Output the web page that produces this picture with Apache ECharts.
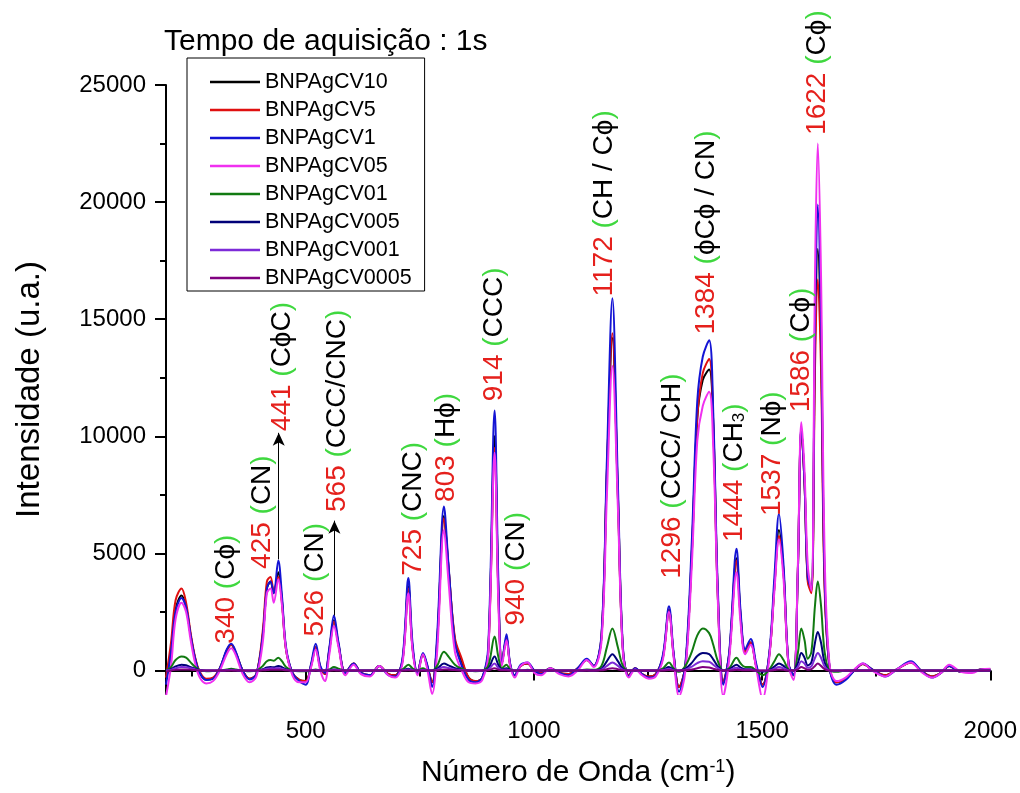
<!DOCTYPE html>
<html><head><meta charset="utf-8">
<script src="https://cdn.jsdelivr.net/npm/echarts@6/dist/echarts.min.js"></script>
<style>html,body{margin:0;padding:0;background:#fff}#chart{width:1020px;height:793px}</style>
</head><body><div id="chart"></div>
<script>
// Raman shift (cm^-1) sample positions
const wavenumber = [194,205,215,228,238,248,258,268,282,297,
 312,327,337,347,362,377,392,406,415,423,
 430,440,448,457,471,486,500,512,522,532,
 542,552,562,572,587,605,621,641,661,681,
 696,712,725,734,745,757,767,777,788,803,
 813,827,842,857,872,887,900,914,922,930,
 940,948,958,971,986,1001,1016,1036,1056,1076,
 1096,1116,1131,1148,1160,1172,1184,1195,1208,1222,
 1237,1252,1267,1283,1296,1306,1318,1332,1346,1358,
 1370,1384,1393,1403,1415,1428,1444,1453,1463,1475,
 1487,1501,1516,1527,1537,1547,1558,1569,1578,1586,
 1593,1600,1608,1616,1622,1629,1637,1648,1663,1683,
 1702,1721,1741,1770,1795,1826,1848,1872,1892,1910,
 1935,1960,1980,2000];

const cv10 = [-400,800,2600,3200,2700,1500,500,-100,-380,-330,
 100,850,1100,750,0,-350,-150,1500,3500,3800,
 3300,4200,3000,900,-100,-400,-450,250,1000,150,
 -150,900,2150,1100,-100,300,-100,-200,200,-150,
 -200,400,3600,1000,-100,700,150,-500,1200,6600,
 4400,1300,400,-300,-450,-300,800,10000,3500,300,
 1400,250,-200,200,300,0,-100,100,-100,-150,
 100,450,200,1400,8500,14200,7500,900,-200,100,
 -150,-250,-150,600,2600,700,-700,200,5000,10800,
 12400,12850,10500,3200,-500,700,4800,2300,800,1200,
 200,-600,700,3600,6000,4200,250,-200,4000,10300,
 8000,3900,3400,14000,18000,14000,3800,100,-500,-350,
 0,280,50,-200,50,350,0,-250,-100,200,
 -50,-50,50,50];

const cv5 = [-300,1200,3000,3500,2900,1600,550,-50,-350,-300,
 100,850,1100,750,0,-350,-150,1700,3800,4000,
 3400,4000,2900,900,-100,-400,-450,200,1000,150,
 -150,900,2100,1100,-100,300,-100,-200,200,-150,
 -200,400,3500,1000,-100,700,150,-500,1200,6500,
 4400,1400,500,-300,-450,-300,800,9500,3500,300,
 1400,250,-200,200,300,0,-100,100,-100,-150,
 100,450,200,1400,8500,14400,7500,900,-200,100,
 -150,-250,-150,600,2600,700,-700,200,5000,10800,
 12700,13300,10500,3200,-500,700,4700,2300,800,1200,
 200,-600,700,3600,5750,4200,250,-200,4000,10300,
 8000,3800,3300,13000,16700,13000,3500,100,-500,-350,
 0,280,50,-200,50,350,0,-250,-100,200,
 -50,-50,50,50];

const cv1 = [-600,800,2500,3100,2700,1500,500,-100,-400,-350,
 100,900,1150,800,0,-380,-150,1500,3500,3800,
 3300,4700,3200,1000,-100,-450,-600,300,1150,200,
 -100,1000,2350,1200,-100,300,-100,-200,200,-200,
 -250,500,3950,1200,-100,750,200,-700,1500,7000,
 4500,1200,200,-400,-500,-300,1000,11100,4000,300,
 1550,300,-200,250,350,0,-150,100,-100,-200,
 100,500,200,1500,9000,15900,8000,1000,-250,100,
 -150,-300,-200,700,2750,800,-900,300,5500,11500,
 13400,14100,11000,3500,-600,800,5200,2500,900,1350,
 300,-700,800,4000,6700,4500,300,-200,4000,10400,
 8000,4000,3500,15000,19900,15000,4000,100,-600,-400,
 0,300,50,-250,50,400,0,-300,-100,200,
 -50,-50,50,50];

const cv05 = [-1100,200,2200,2900,2500,1300,300,-300,-550,-450,
 0,700,950,650,-150,-500,-250,1200,3300,3500,
 2900,3900,2800,900,-200,-500,-500,150,900,0,
 -450,700,1900,1000,-200,250,-150,-250,200,-200,
 -300,300,3300,900,-200,700,0,-1000,800,6000,
 3800,800,0,-500,-550,-400,700,9300,3000,200,
 1300,200,-300,200,350,-100,-200,100,-150,-250,
 0,450,150,1200,7500,13000,7000,800,-300,50,
 -200,-350,-250,500,2500,600,-1100,0,4500,9800,
 11300,11900,9500,3000,-1100,500,4200,2000,700,1100,
 100,-1200,600,3400,5600,3900,200,-400,4200,10600,
 8500,4500,3400,17000,22500,17000,5000,200,-450,-300,
 50,300,0,-250,50,350,-50,-300,-100,250,
 -50,-100,50,80];

const cv01 = [0,150,450,600,550,350,150,30,-30,-20,
 0,50,80,50,0,-30,0,200,400,450,
 420,550,400,150,0,-30,-30,0,50,0,
 0,50,150,80,0,0,0,0,0,0,
 0,50,250,100,0,100,0,0,200,800,
 600,250,80,0,-30,0,200,1450,600,100,
 250,50,0,0,30,0,0,0,0,0,
 0,50,30,200,1000,1800,1000,200,0,0,
 0,0,0,100,350,100,-50,200,800,1500,
 1800,1600,1100,400,0,100,550,300,150,150,
 0,-200,50,400,700,450,50,0,700,1800,
 1300,500,800,2800,3800,2800,800,0,-50,0,
 0,0,0,0,0,0,0,0,0,0,
 0,0,0,0];

const cv005 = [0,60,180,250,230,150,80,20,0,0,
 0,20,30,20,0,0,0,60,130,150,
 140,200,150,60,0,0,0,0,20,0,
 0,20,50,30,0,0,0,0,0,0,
 0,20,80,30,0,30,0,0,80,300,
 220,100,30,0,0,0,80,600,250,50,
 100,20,0,0,10,0,0,0,0,0,
 0,20,10,80,400,700,400,80,0,0,
 0,0,0,40,150,40,0,80,330,620,
 750,700,480,180,0,50,250,130,60,60,
 0,-50,20,170,300,200,20,0,300,750,
 550,220,350,1200,1650,1200,350,0,0,0,
 0,0,0,0,0,0,0,0,0,0,
 0,0,0,0];

const cv001 = [0,30,100,150,140,100,50,10,0,0,
 0,10,20,10,0,0,0,40,80,100,
 90,110,80,30,0,0,0,0,10,0,
 0,10,30,20,0,0,0,0,0,0,
 0,10,50,20,0,20,0,0,40,150,
 110,50,20,0,0,0,40,300,120,30,
 50,10,0,0,0,0,0,0,0,0,
 0,10,0,40,200,350,200,40,0,0,
 0,0,0,20,80,20,0,40,170,320,
 400,380,250,100,0,20,120,60,30,30,
 0,0,10,80,150,100,10,0,150,400,
 300,120,180,550,750,550,180,0,0,0,
 0,0,0,0,0,0,0,0,0,0,
 0,0,0,0];

const cv0005 = [-50,0,30,50,50,40,20,0,0,0,
 0,0,0,0,0,0,0,10,20,30,
 30,40,30,10,0,0,0,0,0,0,
 0,0,10,0,0,0,0,0,0,0,
 0,0,10,0,0,0,0,0,10,50,
 40,20,0,0,0,0,10,100,40,10,
 10,0,0,0,0,0,0,0,0,0,
 0,0,0,10,60,100,60,10,0,0,
 0,0,0,0,20,0,0,10,50,100,
 150,130,80,30,0,0,30,20,10,10,
 0,0,0,20,50,30,0,0,50,150,
 100,40,60,200,300,200,60,0,0,0,
 0,0,0,0,0,0,0,0,0,0,
 0,0,0,0];

const seriesNames = ['BNPAgCV10','BNPAgCV5','BNPAgCV1','BNPAgCV05','BNPAgCV01','BNPAgCV005','BNPAgCV001','BNPAgCV0005'];
const seriesValues = [cv10, cv5, cv1, cv05, cv01, cv005, cv001, cv0005];
const seriesColors = ['#000000','#e01010','#1414d4','#f030f0','#117a11','#000078','#7d2bd8','#800080'];

const xLabelValues = [500,1000,1500,2000];
const xMinorTicks = [250,750,1250,1750];
const yLabelValues = [0,5000,10000,15000,20000,25000];
const yMinorTicks = [2500,7500,12500,17500,22500];

// peak assignments: wavenumber label, group label, anchor (x, y) of text start
const peakNumbers = ['340','425','441','526','565','725','803','914','940','1172','1296','1384','1444','1537','1586','1622'];
const peakGroups  = ['Cϕ','CN','CϕC','CN','CCC/CNC','CNC','Hϕ','CCC','CN','CH / Cϕ','CCC/ CH','ϕCϕ / CN','CH3','Nϕ','Cϕ','Cϕ'];
const peakLabelAt = [[327,1150],[404,4340],[448,10220],[520,1450],[570,6770],[735,4050],[809,7200],[914,11500],[962,1920],[1155,15970],[1304,3920],[1378,14350],[1439,5490],[1523,6600],[1586,11030],[1621,22870]];
const arrowLines = [[[441,4750],[441,10150]],[[563,2350],[563,6400]]];

const FONT = "'Liberation Sans', Arial, Helvetica, sans-serif";

function groupRich(g){
  if (g === 'CH3') return '{t|CH}{s|3}';
  return '{t|' + g + '}';
}

const markData = peakNumbers.map((n, i) => ({
  coord: peakLabelAt[i],
  label: { formatter: '{n|' + n + '} {p|(}' + groupRich(peakGroups[i]) + '{p|)}' }
}));

const series = seriesNames.map((name, i) => ({
  type: 'line',
  name: name,
  data: wavenumber.map((x, j) => [x, seriesValues[i][j]]),
  symbol: 'none',
  showSymbol: false,
  smooth: 0.35,
  lineStyle: { color: seriesColors[i], width: 2 },
  itemStyle: { color: seriesColors[i] },
  emphasis: { disabled: true },
  animation: false,
  silent: true
}));

series[series.length - 1].markPoint = {
  symbol: 'circle', symbolSize: 0, silent: true, animation: false,
  label: {
    show: true, position: 'inside', rotate: 90, align: 'left', verticalAlign: 'middle',
    fontSize: 28, fontFamily: FONT, color: '#000',
    rich: {
      n: { color: '#e5201c', fontSize: 28, fontFamily: FONT },
      p: { color: '#3fd83f', fontSize: 28, fontFamily: FONT },
      t: { color: '#000000', fontSize: 28, fontFamily: FONT },
      s: { color: '#000000', fontSize: 17, fontFamily: FONT, verticalAlign: 'bottom', lineHeight: 10 }
    }
  },
  data: markData
};
series[series.length - 1].markLine = {
  silent: true, animation: false,
  symbol: ['none', 'arrow'], symbolSize: [9, 13],
  lineStyle: { color: '#000', width: 1, type: 'solid' },
  label: { show: false },
  data: arrowLines.map(a => [{ coord: a[0] }, { coord: a[1] }])
};

const plainNumber = v => String(Math.round(v));
const axisLineStyle = { color: '#000', width: 2 };
const option = {
  animation: false,
  backgroundColor: '#fff',
  title: {
    text: 'Tempo de aquisição : 1s', left: 164, top: 27, padding: 0,
    textStyle: { fontSize: 30, fontWeight: 'normal', color: '#000', fontFamily: FONT }
  },
  legend: {
    data: seriesNames, orient: 'vertical', left: 187, top: 58,
    padding: [13, 13, 2, 23], itemWidth: 50, itemHeight: 2.5, itemGap: 6,
    icon: 'rect',
    borderColor: '#000', borderWidth: 1, backgroundColor: '#fff',
    textStyle: { fontSize: 21.5, color: '#000', fontFamily: FONT },
    selectedMode: false
  },
  grid: { left: 166, right: 29, top: 85, bottom: 97 },
  xAxis: [{
    type: 'value', min: 194, max: 2000,
    axisLine: { lineStyle: axisLineStyle },
    axisTick: { customValues: xLabelValues, length: 10, lineStyle: axisLineStyle },
    axisLabel: { customValues: xLabelValues, formatter: plainNumber, fontSize: 24, color: '#000', margin: 25, fontFamily: FONT },
    splitLine: { show: false },
    name: '{a|Número de Onda (cm}{sup|-1}{a|)}',
    nameLocation: 'middle', nameGap: 64,
    nameTextStyle: {
      fontSize: 30, color: '#000', fontFamily: FONT,
      rich: {
        a: { fontSize: 30, color: '#000', fontFamily: FONT },
        sup: { fontSize: 18, color: '#000', fontFamily: FONT, verticalAlign: 'top', lineHeight: 22 }
      }
    }
  }, {
    type: 'value', min: 194, max: 2000, position: 'bottom',
    axisLine: { show: false },
    axisTick: { customValues: xMinorTicks, length: 6, lineStyle: axisLineStyle },
    axisLabel: { show: false },
    splitLine: { show: false }
  }],
  yAxis: [{
    type: 'value', min: -1000, max: 25000,
    axisLine: { show: true, lineStyle: axisLineStyle },
    axisTick: { show: true, customValues: yLabelValues, length: 11, lineStyle: axisLineStyle },
    axisLabel: { customValues: yLabelValues, formatter: plainNumber, fontSize: 24, color: '#000', margin: 20, fontFamily: FONT },
    splitLine: { show: false },
    name: 'Intensidade (u.a.)', nameLocation: 'middle', nameRotate: 90, nameGap: 120,
    nameTextStyle: { fontSize: 33, color: '#000', fontFamily: FONT }
  }, {
    type: 'value', min: -1000, max: 25000, position: 'left',
    axisLine: { show: false },
    axisTick: { show: true, customValues: yMinorTicks, length: 6, lineStyle: axisLineStyle },
    axisLabel: { show: false },
    splitLine: { show: false }
  }],
  series: series
};

const chart = echarts.init(document.getElementById('chart'), null, { renderer: 'canvas' });
chart.setOption(option);
</script>
</body></html>
